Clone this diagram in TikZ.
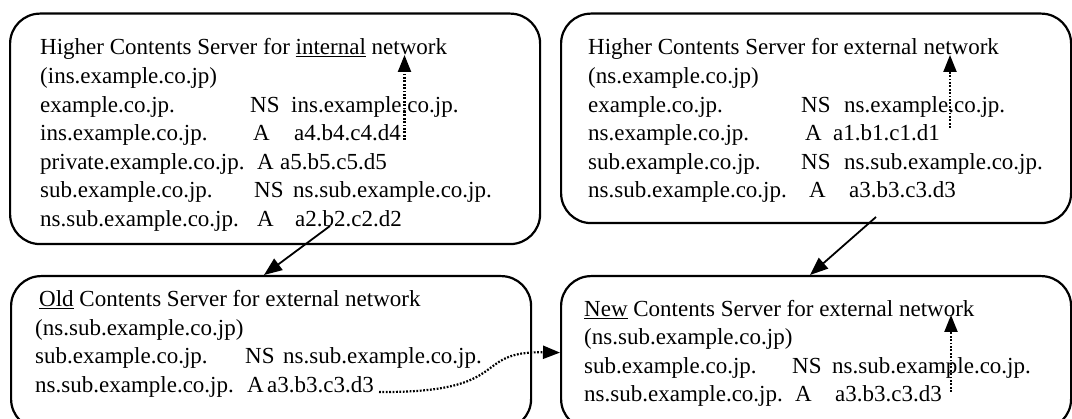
\documentclass[tikz,border=0pt]{standalone}
\usepackage{fontspec}
\setmainfont{Liberation Serif}
\usetikzlibrary{arrows.meta}

% one resource record: name, type column offset, type, value column offset, value
\newcommand\dnsrow[5]{\makebox[#2pt][l]{#1}\makebox[\dimexpr#4pt-#2pt\relax][l]{#3}#5}

\begin{document}
\begin{tikzpicture}[x=1pt,y=-1pt,
  srvbox/.style={draw, line width=2.2pt, rounded corners=30pt, inner sep=0pt, anchor=north west},
  txt/.style={anchor=base west, inner sep=0pt, font=\fontsize{23}{28}\selectfont},
  link/.style={line width=1.8pt, -{Triangle[length=18pt,width=14pt]}},
  ref/.style={line width=2.2pt, dash pattern=on 1.8pt off 1.6pt, -{Triangle[length=17pt,width=13pt]}}]
\useasboundingbox (0,0) rectangle (1072,419);

% server boxes
\node[srvbox, minimum width=530pt, minimum height=230.5pt] (b1) at (9,12.5) {};
\node[srvbox, minimum width=510pt, minimum height=209.5pt] (b2) at (560,12.5) {};
\node[srvbox, minimum width=520pt, minimum height=153pt] (b3) at (10,275) {};
\node[srvbox, minimum width=510pt, minimum height=153pt] (b4) at (560,275) {};

% higher server, internal network
\node[txt] (t1a) at (40,55)    {Higher Contents Server for \underline{internal} network};
\node[txt] (t1b) at (40,83.6)  {(ins.example.co.jp)};
\node[txt] (t1c) at (40,112.2) {\dnsrow{example.co.jp.}{210}{NS}{251}{ins.example.co.jp.}};
\node[txt] (t1d) at (40,140.8) {\dnsrow{ins.example.co.jp.}{213}{A}{254}{a4.b4.c4.d4}};
\node[txt] (t1e) at (40,169.4) {\dnsrow{private.example.co.jp.}{217}{A}{240}{a5.b5.c5.d5}};
\node[txt] (t1f) at (40,198)   {\dnsrow{sub.example.co.jp.}{214}{NS}{253}{ns.sub.example.co.jp.}};
\node[txt] (t1g) at (40,226.6) {\dnsrow{ns.sub.example.co.jp.}{217}{A}{255}{a2.b2.c2.d2}};

% higher server, external network
\node[txt] (t2a) at (588,55)    {Higher Contents Server for external network};
\node[txt] (t2b) at (588,83.6)  {(ns.example.co.jp)};
\node[txt] (t2c) at (588,112.2) {\dnsrow{example.co.jp.}{213}{NS}{256}{ns.example.co.jp.}};
\node[txt] (t2d) at (588,140.8) {\dnsrow{ns.example.co.jp.}{217}{A}{245}{a1.b1.c1.d1}};
\node[txt] (t2e) at (588,169.4) {\dnsrow{sub.example.co.jp.}{213}{NS}{256}{ns.sub.example.co.jp.}};
\node[txt] (t2f) at (588,198)   {\dnsrow{ns.sub.example.co.jp.}{221}{A}{261}{a3.b3.c3.d3}};

% old sub-domain server
\node[txt] (t3a) at (39,307)   {\underline{Old} Contents Server for external network};
\node[txt] (t3b) at (35,335.5) {(ns.sub.example.co.jp)};
\node[txt] (t3c) at (35,364)   {\dnsrow{sub.example.co.jp.}{210}{NS}{248}{ns.sub.example.co.jp.}};
\node[txt] (t3d) at (35,392.5) {\dnsrow{ns.sub.example.co.jp.}{212}{A}{232}{a3.b3.c3.d3}};

% new sub-domain server
\node[txt] (t4a) at (584,316.5) {\underline{New} Contents Server for external network};
\node[txt] (t4b) at (584,345)   {(ns.sub.example.co.jp)};
\node[txt] (t4c) at (584,373.5) {\dnsrow{sub.example.co.jp.}{208}{NS}{248}{ns.sub.example.co.jp.}};
\node[txt] (t4d) at (584,402)   {\dnsrow{ns.sub.example.co.jp.}{211}{A}{251}{a3.b3.c3.d3}};

% connector end points
\coordinate (d1) at (330,226);
\coordinate (d2) at (876,217);
\coordinate (r1s) at (404.5,140);
\coordinate (r1e) at (404.5,55);
\coordinate (r2s) at (950,128);
\coordinate (r2e) at (950,55);
\coordinate (r4s) at (951,392);
\coordinate (r4e) at (951,315);
\coordinate (r3s) at (379,392);

% delegation
\draw[link] (d1) -- ([xshift=254pt]b3.north west);
\draw[link] (d2) -- ([xshift=250pt]b4.north west);

% address references
\draw[ref] (r1s) -- (r1e);
\draw[ref] (r2s) -- (r2e);
\draw[ref] (r4s) -- (r4e);
\draw[ref] (r3s) .. controls (515,393) and (470,351) .. (b4.west);
\end{tikzpicture}
\end{document}
